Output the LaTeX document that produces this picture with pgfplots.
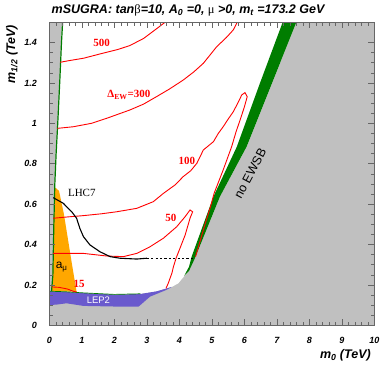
\documentclass[border=0pt]{standalone}
\usepackage{fontspec}
\setmainfont{Liberation Sans}
\newfontfamily\serif{Liberation Serif}
\usepackage{pgfplots}
\pgfplotsset{compat=1.18}

\definecolor{exgray}{RGB}{192,192,192}
\definecolor{dkgreen}{RGB}{0,125,0}
\definecolor{lep}{RGB}{106,90,205}
\definecolor{amu}{RGB}{255,167,0}

\begin{document}
\begin{tikzpicture}
\begin{axis}[
    scale only axis, width=325pt, height=303pt,
    xmin=0, xmax=10, ymin=0, ymax=1.5,
    axis background/.style={fill=exgray},
    axis on top,
    axis line style={black!60, line width=0.6pt},
    xtick={0,1,2,3,4,5,6,7,8,9,10},
    xticklabels={0,1,2,3,4,5,6,7,8,9,10},
    ytick={0,0.2,0.4,0.6,0.8,1,1.2,1.4},
    yticklabels={0,0.2,0.4,0.6,0.8,1,1.2,1.4},
    minor x tick num=4, minor y tick num=3,
    tick align=inside,
    major tick length=6pt, minor tick length=3.5pt,
    tick style={black!60, line width=0.5pt},
    ticklabel style={font=\fontsize{9}{10}\selectfont\bfseries\itshape},
    xticklabel style={yshift=-8pt},
    yticklabel style={xshift=-9pt},
    title={mSUGRA: tan{\serif\upshape\mdseries β}=10, A\textsubscript{0} =0, {\serif\upshape\mdseries μ} >0, m\textsubscript{t} =173.2 GeV},
    title style={at={(axis description cs:0.427,1.03)}, anchor=base, yshift=-6pt, font=\fontsize{12.5}{14}\selectfont\bfseries\itshape},
    xlabel={m\textsubscript{0} (TeV)},
    xlabel style={at={(axis description cs:1.0,-0.098)}, anchor=east, font=\fontsize{12.5}{14}\selectfont\bfseries\itshape},
    ylabel={m\textsubscript{1/2} (TeV)},
    ylabel style={at={(axis description cs:-0.115,0.895)}, anchor=center, font=\fontsize{12.5}{14}\selectfont\bfseries\itshape},
]
% allowed (white) region
\addplot[fill=white, draw=none] coordinates {
  (0.39,1.5)(0.36,1.4)(0.31,1.2)(0.25,1.0)(0.2,0.85)(0.16,0.7)(0.13,0.5)(0.1,0.25)(0.06,0.17)
  (0.5,0.165)(1,0.16)(2,0.152)(2.8,0.155)(3.3,0.168)(3.77,0.19)
  (3.97,0.208)(4.18,0.249)(4.3,0.29)
  (4.48,0.332)(5.25,0.637)(6.07,0.884)(6.89,1.214)(7.6,1.5)
} -- cycle;
% green band (no EWSB edge)
\addplot[fill=dkgreen, draw=none] coordinates {
  (4.15,0.245)(4.3,0.29)(4.38,0.34)(5.05,0.637)(5.77,0.884)(6.48,1.198)(7.18,1.5)
  (7.6,1.5)(6.89,1.214)(6.07,0.884)(5.25,0.637)(4.48,0.332)(4.3,0.27)
} -- cycle;
% a_mu region
\addplot[fill=amu, draw=none] coordinates {
  (0,0.17)(0,0.6)(0.12,0.675)(0.2,0.68)(0.3,0.665)(0.45,0.55)(0.58,0.42)(0.7,0.3)(0.84,0.166)
} -- cycle;
% left excluded strip
\addplot[fill=exgray, draw=none] coordinates {
  (0,1.5)(0.39,1.5)(0.36,1.4)(0.31,1.2)(0.25,1.0)(0.2,0.85)(0.16,0.7)(0.13,0.5)(0.1,0.25)(0.06,0.17)(0,0.17)
} -- cycle;
\addplot[dkgreen, line width=1.2pt] coordinates {
  (0.41,1.5)(0.375,1.4)(0.32,1.2)(0.26,1.0)(0.21,0.85)(0.17,0.7)(0.14,0.5)(0.11,0.25)(0.07,0.17)
};
% LEP2
\addplot[fill=lep, draw=none] coordinates {
  (0,0.168)(0.5,0.165)(1,0.16)(2,0.152)(2.8,0.155)(3.3,0.168)(3.77,0.19)
  (3.6,0.175)(3.1,0.142)(2.75,0.093)(2,0.093)(1.05,0.096)(0.53,0.109)(0.25,0.103)(0,0.1)
} -- cycle;
\addplot[dkgreen, line width=0.7pt] coordinates {
  (0,0.169)(0.5,0.166)(1,0.161)(2,0.153)(2.8,0.156)
};
% Delta_EW contours
\addplot[red, line width=0.9pt] coordinates {
  (0.33,1.302)(0.6,1.31)(1.05,1.322)(1.6,1.345)(2.1,1.365)(2.48,1.385)(2.9,1.42)(3.25,1.462)(3.56,1.5)
};
\addplot[red, line width=0.9pt] coordinates {
  (0.25,0.975)(0.74,0.983)(1.3,1.0)(1.77,1.025)(2.48,1.066)(2.9,1.095)(3.3,1.132)(3.7,1.17)
  (4.12,1.214)(4.45,1.255)(4.74,1.297)(5.15,1.379)(5.45,1.425)(5.66,1.462)(5.78,1.5)
};
\addplot[red, line width=0.9pt] coordinates {
  (0.12,0.53)(0.6,0.537)(1.05,0.543)(1.6,0.552)(2.07,0.562)(2.69,0.579)(3.2,0.612)(3.51,0.653)
  (3.87,0.695)(4.12,0.736)(4.35,0.765)(4.54,0.802)(4.74,0.868)(5.05,0.909)(5.2,0.95)(5.35,0.983)
  (5.5,1.02)(5.66,1.057)(5.8,1.1)(5.92,1.14)(6.02,1.152)(6.09,1.132)(6.0,1.08)(5.87,1.016)
  (5.75,0.96)(5.61,0.884)(5.35,0.769)(5.07,0.653)(4.96,0.587)(4.8,0.505)(4.62,0.406)(4.5,0.34)
};
\addplot[red, line width=0.9pt] coordinates {
  (0.12,0.356)(1.05,0.356)(1.77,0.343)(2.28,0.34)(2.69,0.356)(3.1,0.389)(3.51,0.431)(3.92,0.488)
  (4.18,0.538)(4.33,0.571)(4.41,0.562)(4.33,0.53)(4.18,0.447)(4.02,0.381)(3.9,0.332)(3.82,0.29)
  (3.77,0.257)(3.72,0.235)(3.66,0.208)(3.59,0.183)
};
\addplot[red, line width=0.9pt] coordinates {
  (0.07,0.19)(0.3,0.188)(0.55,0.18)(0.75,0.168)(0.84,0.165)
};
% LHC7 reach
\addplot[black, line width=1.1pt] coordinates {
  (0.12,0.632)(0.43,0.604)(0.69,0.562)(0.84,0.53)(0.94,0.48)(1.05,0.439)(1.25,0.398)(1.56,0.364)
  (1.87,0.34)(2.18,0.332)(2.69,0.328)(3.0,0.332)
};
\addplot[black, line width=1pt, dash pattern=on 2.2pt off 2.2pt] coordinates {(3.0,0.332)(4.45,0.332)};
% labels
\node[red, font=\serif\bfseries\fontsize{11}{12}\selectfont] at (axis cs:1.61,1.40) {500};
\node[red, font=\serif\bfseries\fontsize{11}{12}\selectfont] at (axis cs:2.45,1.14) {Δ\textsubscript{EW}=300};
\node[red, font=\serif\bfseries\fontsize{11}{12}\selectfont] at (axis cs:4.23,0.815) {100};
\node[red, font=\serif\bfseries\fontsize{11}{12}\selectfont] at (axis cs:3.74,0.53) {50};
\node[red, font=\serif\bfseries\fontsize{11}{12}\selectfont] at (axis cs:0.92,0.205) {15};
\node[font=\serif\fontsize{11}{12}\selectfont] at (axis cs:1.0,0.655) {LHC7};
\node[font=\fontsize{12}{13}\selectfont] at (axis cs:0.38,0.29) {a\textsubscript{μ}};
\node[white, font=\fontsize{9.5}{11}\selectfont] at (axis cs:1.51,0.125) {LEP2};
\node[rotate=62, font=\fontsize{12.5}{14}\selectfont] at (axis cs:6.18,0.752) {no EWSB};
\end{axis}
\pgfresetboundingbox
\useasboundingbox (-49.3pt,-42.7pt) rectangle (332.7pt,325.3pt);
\end{tikzpicture}
\end{document}
